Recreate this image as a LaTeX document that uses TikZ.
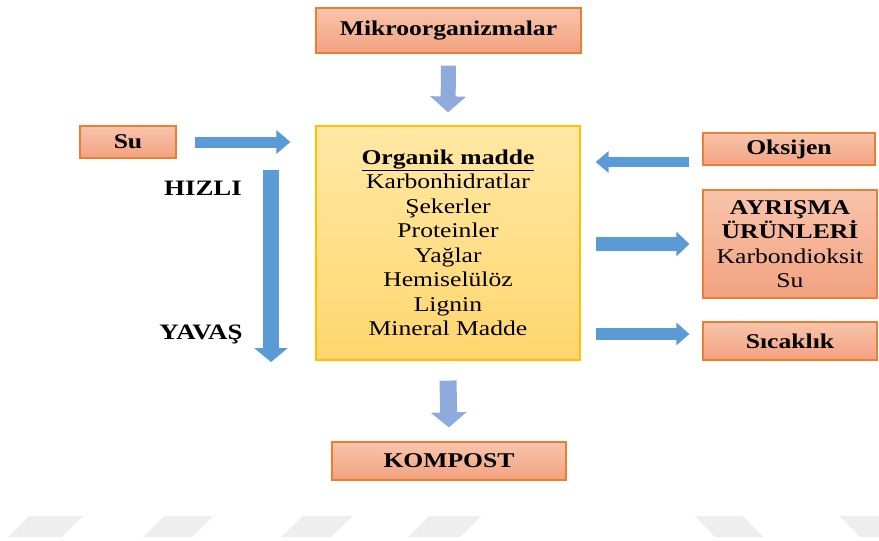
\documentclass[tikz,border=0pt]{standalone}
\usepackage{fontspec}
\setmainfont{Liberation Serif}[FakeStretch=1.22]
\usetikzlibrary{positioning, calc}
\usetikzlibrary{arrows.meta}
\definecolor{boxtop}{RGB}{248,196,172}
\definecolor{boxbot}{RGB}{242,162,128}
\definecolor{boxline}{RGB}{237,125,49}
\definecolor{maintop}{RGB}{255,232,165}
\definecolor{mainbot}{RGB}{255,214,110}
\definecolor{mainline}{RGB}{255,192,0}
\definecolor{arrblue}{RGB}{91,155,213}
\definecolor{arrlav}{RGB}{143,170,220}
\definecolor{wmgray}{RGB}{238,238,238}

\begin{document}
\begin{tikzpicture}[
  x=1pt, y=-1pt,
  every node/.style={font=\fontsize{21}{24.5}\selectfont, inner sep=0pt},
  kutu/.style={draw=boxline, line width=1.2pt, top color=boxtop, bottom color=boxbot, align=center},
  anakutu/.style={draw=mainline, line width=1.2pt, top color=maintop, bottom color=mainbot, align=center},
  etiket/.style={font=\fontsize{22}{24.5}\selectfont\bfseries},
  mavi/.style={draw=arrblue, line width=#1},
  lila/.style={draw=arrlav, line width=#1}
]
  \useasboundingbox (0,0) rectangle (879,541);
  % filigrana
  \foreach \a/\b/\w in {29/8/54, 164/143/49, 303/281/50, 429/408/52, 695/715/48, 839/860/45}
    \fill[wmgray] (\a,516) -- (\a+\w,516) -- (\b+\w,537) -- (\b,537) -- cycle;
  % --- kutular ---
  \node[kutu, minimum width=265, minimum height=45] (mikro) at (448.5,30.5) {\bfseries Mikroorganizmalar};
  \node[kutu, minimum width=96, minimum height=32] (su) at (128,142) {\bfseries Su};
  \node[anakutu, minimum width=264, minimum height=234] (organik) at (448,243)
    {\underline{\bfseries Organik madde}\\Karbonhidratlar\\Şekerler\\Proteinler\\Yağlar\\Hemiselülöz\\Lignin\\Mineral Madde};
  \node[kutu, minimum width=172, minimum height=32] (oksijen) at (789,149) {\bfseries Oksijen};
  \node[kutu, minimum width=174, minimum height=108] (ayrisma) at (790,244)
    {{\bfseries AYRIŞMA}\\{\bfseries ÜRÜNLERİ}\\Karbondioksit\\Su};
  \node[kutu, minimum width=174, minimum height=38] (sicaklik) at (790,341) {\bfseries Sıcaklık};
  \node[kutu, minimum width=234, minimum height=38] (kompost) at (449,461) {\bfseries KOMPOST};
  \node[etiket] (hizli) at (203,188) {HIZLI};
  \node[etiket] (yavas) at (201,334) {YAVAŞ};
  % --- oklar ---
  \coordinate (hizlibas) at (271,170);
  \coordinate (yavassonu) at (271,362);
  \draw[lila=15, -{Triangle[length=16pt, width=35pt]}] ($(mikro.south)+(0,12)$) -- ($(organik.north)+(0,-13)$);
  \draw[mavi=11, -{Triangle[length=14pt, width=23pt]}] ($(su.east)+(18,0)$) -- ($(su.east -| organik.west)+(-25,0)$);
  \draw[mavi=16, -{Triangle[length=14pt, width=33pt]}] (hizlibas) -- (yavassonu);
  \draw[mavi=10, -{Triangle[length=13pt, width=21pt]}] ($(oksijen.west)+(-13,13)$) -- ($(oksijen.west -| organik.east)+(15,13)$);
  \draw[mavi=14, -{Triangle[length=13pt, width=24pt]}] ($(ayrisma.west -| organik.east)+(15,0)$) -- ($(ayrisma.west)+(-13,0)$);
  \draw[mavi=12, -{Triangle[length=13pt, width=22pt]}] ($(sicaklik.west -| organik.east)+(15,-7)$) -- ($(sicaklik.west)+(-13,-7)$);
  \draw[lila=17, -{Triangle[length=15pt, width=35pt]}] ($(organik.south)+(0,20)$) -- ($(kompost.north)+(0,-14)$);
\end{tikzpicture}
\end{document}
